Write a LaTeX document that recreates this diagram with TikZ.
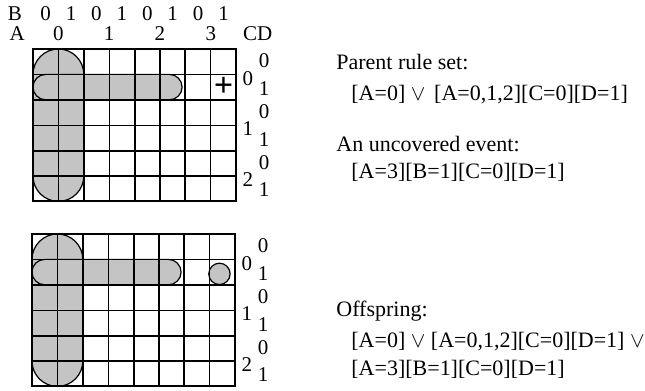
\documentclass[tikz,border=0pt]{standalone}
\usepackage{fontspec}
\setmainfont{Liberation Serif}
\usepackage{tikz}
\tikzset{
  cellline/.style  = {black, line width=0.55pt},
  groupline/.style = {black, line width=1.0pt},
  ruleline/.style  = {black, line width=0.6pt},
  stipple/.style   = {fill=black!23},
  lbl/.style       = {inner sep=0pt, font=\fontsize{10.5}{12}\selectfont},
  rtext/.style     = {inner sep=0pt, anchor=west, font=\fontsize{11}{13}\selectfont}
}

\begin{document}
\begin{tikzpicture}[x=0.5pt, y=-0.5pt]
  \useasboundingbox (0,0) rectangle (645,391);

  % parent map
  \begin{scope}[shift={(33,49)}, x=12.7pt, y=-12.7pt]
    \fill[stipple, rounded corners=12.7pt] (0,0) rectangle (2,6);
    \fill[stipple, rounded corners=6.35pt] (0,1) rectangle (5.87,2);
    \foreach \i in {1,...,7} \draw[cellline] (\i,0) -- (\i,6);
    \foreach \j in {1,...,5} \draw[cellline] (0,\j) -- (8,\j);
    \foreach \i in {2,4,6} \draw[groupline] (\i,0) -- (\i,6);
    \foreach \j in {2,4} \draw[groupline] (0,\j) -- (8,\j);
    \draw[groupline] (0,0) rectangle (8,6);
    \draw[ruleline, rounded corners=12.7pt] (0,0) rectangle (2,6);
    \draw[ruleline, rounded corners=6.35pt] (0,1) rectangle (5.87,2);
    \node[lbl, font=\bfseries\fontsize{17}{17}\selectfont] (plus) at (7.5,1.5) {+};
    % B and A headings
    \node[lbl] (bname) at (-0.71,-1.38) {B};
    \foreach \i in {0,...,7} {
      \pgfmathtruncatemacro\bv{mod(\i,2)}
      \node[lbl] (b\i) at (\i+0.5,-1.38) {\bv};
    }
    \node[lbl] (aname) at (-0.62,-0.62) {A};
    \foreach \i in {0,...,3}
      \node[lbl] (a\i) at (2*\i+1,-0.62) {\i};
    \node[lbl] (cdname) at (8.85,-0.62) {CD};
    % C and D values
    \foreach \k in {0,1,2} {
      \node[lbl] (c\k) at (8.46,2*\k+1.15) {\k};
      \node[lbl] (dz\k) at (9.1,2*\k+0.47) {0};
      \node[lbl] (do\k) at (9.1,2*\k+1.55) {1};
    }
  \end{scope}

  % offspring map
  \begin{scope}[shift={(32,234)}, x=12.7pt, y=-12.7pt]
    \fill[stipple, rounded corners=12.7pt] (0,0) rectangle (2,6);
    \fill[stipple, rounded corners=6.35pt] (0,1) rectangle (5.87,2);
    \fill[stipple] (7.38,1.57) circle[radius=0.42];
    \foreach \i in {1,...,7} \draw[cellline] (\i,0) -- (\i,6);
    \foreach \j in {1,...,5} \draw[cellline] (0,\j) -- (8,\j);
    \foreach \i in {2,4,6} \draw[groupline] (\i,0) -- (\i,6);
    \foreach \j in {2,4} \draw[groupline] (0,\j) -- (8,\j);
    \draw[groupline] (0,0) rectangle (8,6);
    \draw[ruleline, rounded corners=12.7pt] (0,0) rectangle (2,6);
    \draw[ruleline, rounded corners=6.35pt] (0,1) rectangle (5.87,2);
    \draw[ruleline] (7.38,1.57) circle[radius=0.42];
    \foreach \k in {0,1,2} {
      \node[lbl] (oc\k) at (8.46,2*\k+1.15) {\k};
      \node[lbl] (odz\k) at (9.1,2*\k+0.47) {0};
      \node[lbl] (odo\k) at (9.1,2*\k+1.55) {1};
    }
  \end{scope}

  % rule texts
  \node[rtext] (parent) at (336,62)  {Parent rule set:};
  \node[rtext] (prule)  at (351,95)  {[A=0] $\vee$\hspace{0.4em}[A=0,1,2][C=0][D=1]};
  \node[rtext] (uncov)  at (336,144) {An uncovered event:};
  \node[rtext] (event)  at (351,172) {[A=3][B=1][C=0][D=1]};
  \node[rtext] (offspr) at (336,311) {Offspring:};
  \node[rtext] (orule)  at (351,342) {[A=0] $\vee$ [A=0,1,2][C=0][D=1] $\vee$};
  \node[rtext] (oevent) at (351,369) {[A=3][B=1][C=0][D=1]};
\end{tikzpicture}
\end{document}
